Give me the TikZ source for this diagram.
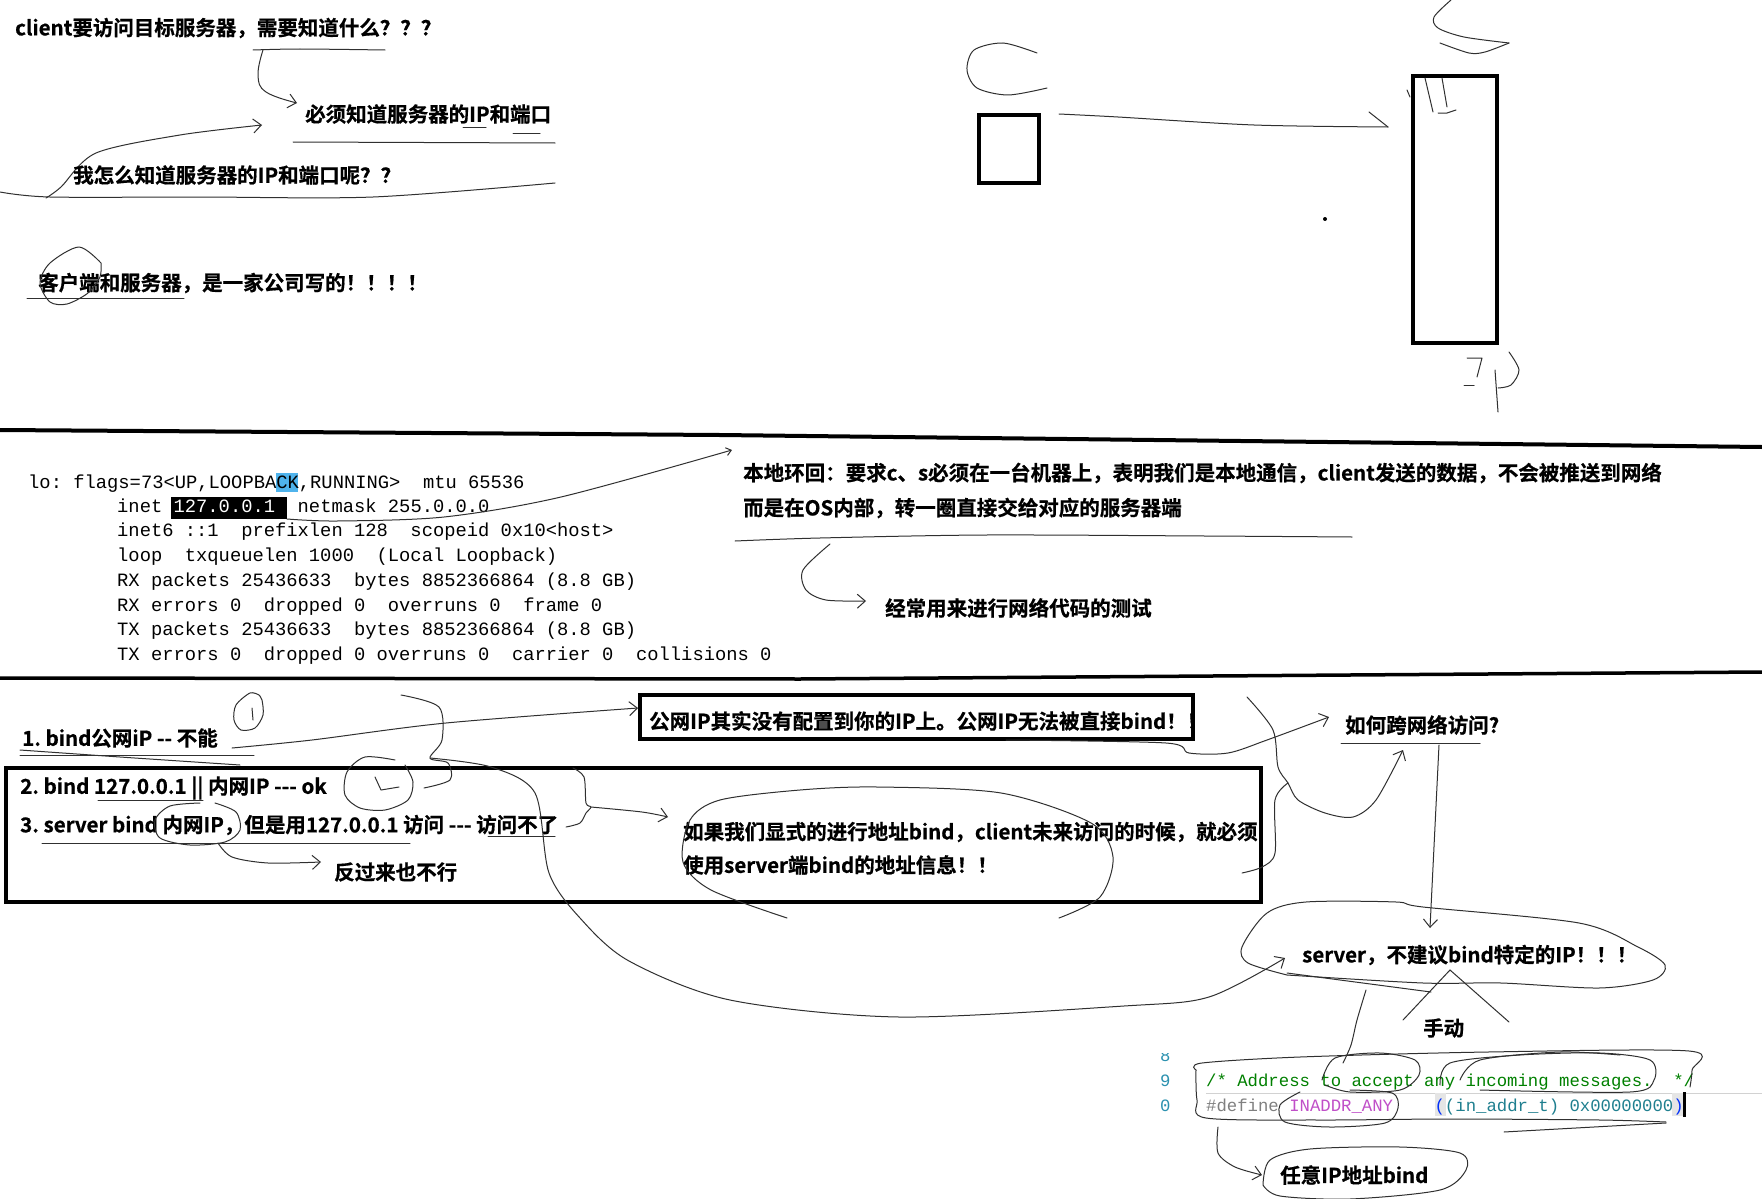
\documentclass[tikz,border=0pt]{standalone}
\usepackage{fontspec}
\usetikzlibrary{arrows.meta}
\newfontfamily\cjk{Noto Sans CJK SC}[BoldFont={Noto Sans CJK SC Bold},BoldFeatures={FakeBold=0.7}]
\newfontfamily\mono{Liberation Mono}
\frenchspacing
\definecolor{penc}{HTML}{303030}
\definecolor{hlblue}{HTML}{4FB3EC}
\definecolor{cmtgreen}{HTML}{008000}
\definecolor{kwgrey}{HTML}{808080}
\definecolor{macroc}{HTML}{C04FC8}
\definecolor{parenc}{HTML}{0431FA}
\definecolor{tealc}{HTML}{1F7F8F}
\definecolor{lnum}{HTML}{2B91AF}
\begin{document}
\begin{tikzpicture}[x=1pt,y=-1pt,
  hand/.style={draw=penc,line width=1pt,line cap=round,line join=round},
  harrow/.style={hand,-{Straight Barb[length=8pt,width=14pt]}},
  thickbox/.style={draw=black,line width=3.5pt,inner sep=0pt},
  zh/.style={font=\cjk\bfseries\fontsize{20.5}{24}\selectfont,inner sep=0pt,anchor=west},
  term/.style={font=\mono\fontsize{18.8}{22}\selectfont,inner sep=0pt,anchor=base west},
  code/.style={font=\mono\fontsize{17.3}{21}\selectfont,inner sep=0pt,anchor=base west},
]
\fill[white] (0,0) rectangle (1762,1199);
\path[use as bounding box] (0,0) rectangle (1762,1199);

% ---------------- top section ----------------
\node[zh] (q1) at (15,28) {client要访问目标服务器，需要知道什么？？？};
\draw[hand] plot[smooth] coordinates {(253,50) (300,49) (385,50)};
\draw[harrow] plot[smooth,tension=0.7] coordinates {(263,50) (258,75) (266,92) (297,103)};
\node[zh] (a1) at (305,114) {必须知道服务器的IP和端口};
\draw[hand] (293,142) -- (555,143);
\draw[hand] (463,127) -- (486,127);
\draw[hand] (513,133) -- (540,133);
\draw[harrow] plot[smooth] coordinates {(46,198) (61,187) (96,153) (180,135) (262,125)};
\node[zh] (q2) at (73,175) {我怎么知道服务器的IP和端口呢？？};
\draw[hand] plot[smooth] coordinates {(0,192) (50,197) (200,197) (373,197) (555,183)};
\node[zh] (c1) at (38,283) {客户端和服务器，是一家公司写的！！！！};
\draw[hand] (27,298) -- (184,298);
\draw[hand] plot[smooth] coordinates {(101,263) (79,247) (50,263) (40,283) (50,302) (67,304) (88,293) (100,277) (101,263)};

% top right sketch
\draw[hand] plot[smooth] coordinates {(1037,53) (1003,43) (974,50) (967,70) (977,88) (1008,95) (1047,88)};
\node[thickbox,minimum width=60pt,minimum height=68pt] (cbox) at (1009,149) {};
\node[thickbox,minimum width=84pt,minimum height=267pt] (sbox) at (1455,209.5) {};
\draw[hand] plot[smooth] coordinates {(1059,114) (1118,117) (1254,125) (1388,127)};
\draw[hand] (1369,112) -- (1388,127);
\draw[hand] plot[smooth] coordinates {(1451,0) (1434,17) (1438,28) (1464,37) (1509,43)};
\draw[hand] plot[smooth] coordinates {(1509,43) (1485,52) (1469,53) (1440,43)};
\draw[hand] (1425,78) -- (1433,112);
\draw[hand] (1442,78) -- (1447,107);
\draw[hand] (1438,113) -- (1447,113) -- (1456,110);
\draw[hand] (1407,90) -- (1410,97);
\fill (1325,219) circle (2);
\draw[hand] (1467,358) -- (1482,358) -- (1477,377);
\draw[hand] (1464,385) -- (1474,385);
\draw[hand] plot[smooth] coordinates {(1509,352) (1519,370) (1511,385) (1498,388)};
\draw[hand] (1495,370) -- (1498,412);

% separators
\draw[line width=4pt] (0,430) -- (720,435) -- (1762,447);
\draw[line width=3.5pt] (0,678) -- (800,679) -- (1762,672);

% ---------------- middle section ----------------
\fill[hlblue] (276,473) rectangle (298,492);
\fill[black] (171,497) rectangle (287,519);
\node[term] (l1) at (28,488) {lo: flags=73<UP,LOOPBACK,RUNNING>~~mtu 65536};
\node[term] (l2) at (117,512) {inet \textcolor{white}{127.0.0.1}~~netmask 255.0.0.0};
\node[term] (l3) at (117,536) {inet6 ::1~~prefixlen 128~~scopeid 0x10<host>};
\node[term] (l4) at (117,561) {loop~~txqueuelen 1000~~(Local Loopback)};
\node[term] (l5) at (117,586) {RX packets 25436633~~bytes 8852366864 (8.8 GB)};
\node[term] (l6) at (117,611) {RX errors 0~~dropped 0~~overruns 0~~frame 0};
\node[term] (l7) at (117,635) {TX packets 25436633~~bytes 8852366864 (8.8 GB)};
\node[term] (l8) at (117,660) {TX errors 0~~dropped 0 overruns 0~~carrier 0~~collisions 0};

\node[zh] (lb1) at (743,473) {本地环回：要求c、s必须在一台机器上，表明我们是本地通信，client发送的数据，不会被推送到网络};
\node[zh] (lb2) at (743,508) {而是在OS内部，转一圈直接交给对应的服务器端};
\draw[hand,-{Straight Barb[length=5pt,width=8pt]}] plot[smooth] coordinates {(287,519) (337,521) (444,517) (561,497) (732,450)};
\draw[hand] plot[smooth] coordinates {(735,541) (820,538) (986,535) (1205,536) (1352,537)};
\draw[harrow] plot[smooth] coordinates {(830,544) (803,570) (806,590) (826,600) (866,601)};
\node[zh] (t6) at (885,608) {经常用来进行网络代码的测试};

% ---------------- bottom section ----------------
\node[zh] (b1) at (22,738) {1. bind公网iP -{}- 不能};
\draw[hand] (20,755) -- (254,755);
\draw[hand] plot[smooth] coordinates {(20,750) (120,757) (240,765)};
\draw[harrow] plot[smooth] coordinates {(232,748) (312,740) (446,723) (638,708)};
\draw[hand] plot[smooth] coordinates {(259,695) (250,693) (236,705) (234,720) (241,730) (255,728) (263,715) (262,700) (259,695)};
\draw[hand] (252,708) -- (253,720);

\node[thickbox,minimum width=553pt,minimum height=44pt] (pbox) at (916.5,717) {};
\node[zh] (pub) at (649,721) {公网IP其实没有配置到你的IP上。公网IP无法被直接bind！！};

\node[thickbox,minimum width=1255pt,minimum height=134pt] (box2) at (633.5,835) {};
\node[zh] (b2) at (20,788) {2. bind 127.0.0.1 || 内网IP -{}-{}- ok};
\draw[hand] (98,800) -- (203,800);
\node[zh] (b3) at (20,825) {3. server bind 内网IP，但是用127.0.0.1 访问 -{}-{}- 访问不了};
\draw[hand] (42,843) -- (410,843);
\draw[hand] (488,836) -- (555,836);
\draw[hand] plot[smooth] coordinates {(200,803) (170,806) (155,820) (160,838) (190,845) (225,842) (240,830) (236,812) (215,803)};
\draw[harrow] plot[smooth] coordinates {(218,843) (232,857) (268,863) (321,862)};
\node[zh] (b4) at (334,872) {反过来也不行};
\draw[hand] plot[smooth] coordinates {(395,760) (365,757) (347,772) (345,795) (360,808) (385,810) (408,800) (413,782) (405,765)};
\draw[hand] (375,777) -- (381,790) -- (399,787);
\draw[hand] plot[smooth] coordinates {(401,695) (439,707) (442,740) (430,758) (448,763) (450,780) (424,788)};
\draw[harrow] plot[smooth] coordinates {(430,758) (491,767) (535,793) (549,873) (580,918) (629,961) (730,1000) (899,1017) (1124,1006) (1209,997) (1285,958)};
\draw[hand] plot[smooth] coordinates {(573,768) (584,777) (586,803) (591,807) (586,813) (580,823) (566,827)};
\draw[harrow] plot[smooth] coordinates {(591,807) (642,812) (668,817)};

\node[zh] (r1) at (683,832) {如果我们显式的进行地址bind，client未来访问的时候，就必须};
\node[zh] (r2) at (683,865) {使用server端bind的地址信息！！};
\draw[hand] plot[smooth] coordinates {(787,918) (711,890) (683,862) (690,820) (720,800) (800,790) (877,787) (1001,793) (1091,823) (1113,857) (1100,897) (1059,918)};

\node[zh] (how) at (1345,725) {如何跨网络访问?};
\draw[hand] (1341,743) -- (1480,743);
\draw[harrow] plot[smooth] coordinates {(1006,740) (1166,743) (1189,753) (1228,753) (1267,740) (1329,717)};
\draw[harrow] plot[smooth] coordinates {(1247,697) (1273,730) (1278,767) (1288,783) (1298,800) (1325,813) (1353,817) (1376,800) (1403,750)};
\draw[hand] plot[smooth] coordinates {(1242,873) (1262,867) (1275,853) (1275,800) (1288,783)};
\draw[harrow] (1439,745) -- (1430,928);

\draw[hand] plot[smooth] coordinates {(1287,975) (1248,963) (1242,947) (1267,913) (1306,902) (1396,902) (1423,907) (1579,923) (1638,947) (1665,965) (1653,980) (1599,988) (1501,983) (1423,983) (1287,975)};
\draw[hand] (1287,973) -- (1431,992);
\node[zh] (srv) at (1302,955) {server，不建议bind特定的IP！！！};
\draw[hand] (1450,970) -- (1403,1020);
\draw[hand] (1450,970) -- (1509,1022);
\draw[hand] plot[smooth] coordinates {(1366,990) (1357,1020) (1351,1045) (1343,1063)};
\node[zh] (manual) at (1423,1028) {手动};

% code snippet
\begin{scope}
\clip (1150,1053) rectangle (1185,1070);
\node[code,text=lnum] at (1160,1061) {8};
\end{scope}
\node[code,text=lnum] (n9) at (1160,1086) {9};
\node[code,text=lnum] (n0) at (1160,1111) {0};
\draw[gray!35] (1206,1093) -- (1762,1093);
\fill[gray!20] (1435,1093) rectangle (1446,1116);
\fill[gray!20] (1672,1093) rectangle (1683,1116);
\fill[black] (1683,1092) rectangle (1685.5,1117);
\node[code] (c9) at (1206,1086) {\textcolor{cmtgreen}{/* Address to accept any incoming messages.~~*/}};
\node[code] (c10) at (1206,1111) {\textcolor{kwgrey}{\#define} \textcolor{macroc}{INADDR\_ANY}~~~~\textcolor{parenc}{(}\textcolor{tealc}{(in\_addr\_t) 0x00000000}\textcolor{parenc}{)}};

\draw[hand] plot[smooth] coordinates {(1196,1070) (1202,1063) (1300,1057) (1488,1052) (1689,1051) (1692,1070) (1690,1087)};
\draw[hand] plot[smooth] coordinates {(1196,1070) (1197,1100) (1206,1118) (1320,1120) (1450,1119) (1600,1120) (1666,1122)};
\draw[hand] (1504,1132) -- (1666,1123);
\draw[hand] plot[smooth] coordinates {(1322,1080) (1335,1058) (1380,1053) (1415,1060) (1419,1075) (1400,1090) (1350,1092) (1325,1085)};
\draw[hand] plot[smooth] coordinates {(1440,1085) (1450,1063) (1520,1055) (1600,1053) (1650,1060) (1654,1080) (1630,1092) (1480,1090)};
\draw[hand] plot[smooth] coordinates {(1460,1080) (1480,1060) (1560,1052) (1620,1055)};
\draw[hand] plot[smooth] coordinates {(1300,1092) (1280,1105) (1285,1122) (1330,1127) (1385,1123) (1398,1108) (1392,1093) (1350,1090)};
\draw[harrow] plot[smooth] coordinates {(1218,1127) (1218,1153) (1235,1167) (1262,1175)};
\draw[hand] plot[smooth] coordinates {(1263,1185) (1270,1160) (1310,1149) (1400,1147) (1460,1153) (1466,1170) (1440,1190) (1350,1199) (1280,1196) (1263,1185)};
\node[zh] (anyip) at (1280,1175) {任意IP地址bind};
\end{tikzpicture}
\end{document}
